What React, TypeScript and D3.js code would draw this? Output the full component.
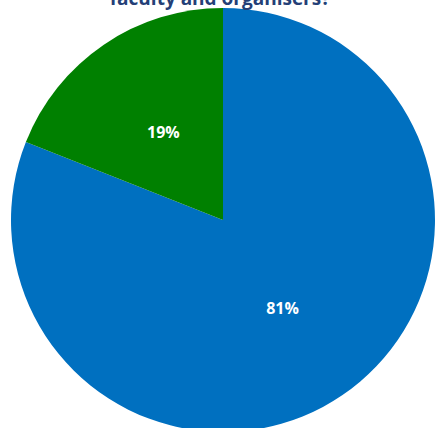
import React from "react";
import * as d3 from "d3";

const categories = ["Yes", "No"];
const values = [81, 19];
const colors = ["#0070C0", "#008000"];
const title = "faculty and organisers?";

export default function App() {
  const width = 435;
  const height = 428;
  const cx = 223;
  const cy = 220;
  const r = 212;
  const pie = d3.pie<number>().sort(null).value((d) => d);
  const arcs = pie(values);
  const arc = d3.arc<d3.PieArcDatum<number>>().innerRadius(0).outerRadius(r);
  const labelArc = d3.arc<d3.PieArcDatum<number>>().innerRadius(r * 0.5).outerRadius(r * 0.5);
  return (
    <svg
      width={width}
      height={height}
      style={{ position: "absolute", left: 0, top: 0, display: "block" }}
      fontFamily="'Open Sans', 'DejaVu Sans', sans-serif"
    >
      <rect width={width} height={height} fill="#fff" />
      <g transform={`translate(${cx},${cy})`}>
        {arcs.map((a, i) => (
          <path key={categories[i]} d={arc(a) || ""} fill={colors[i]} />
        ))}
        {arcs.map((a, i) => {
          const [x, y] = labelArc.centroid(a);
          return (
            <text
              key={"l" + categories[i]}
              x={x}
              y={y}
              textAnchor="middle"
              dominantBaseline="central"
              fill="#fff"
              fontWeight="bold"
              fontSize={16}
            >
              {values[i]}%
            </text>
          );
        })}
      </g>
      <text x={220} y={5} textAnchor="middle" fill="#243F77" fontWeight="bold" fontSize={19}>
        {title}
      </text>
    </svg>
  );
}
